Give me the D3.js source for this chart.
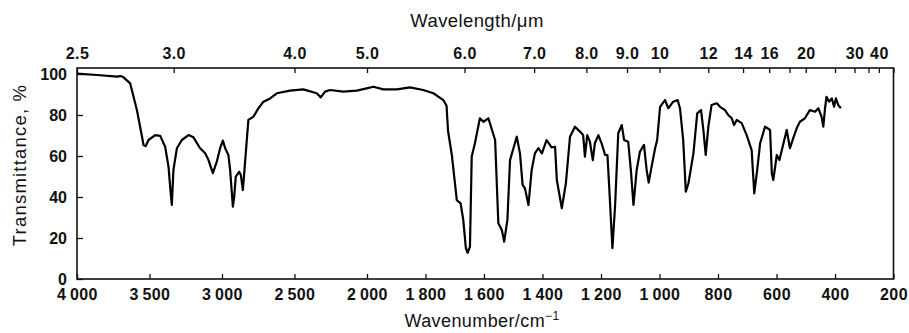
<!DOCTYPE html>
<html>
<head>
<meta charset="utf-8">
<script src="https://cdn.jsdelivr.net/npm/d3@7"></script>
<style>
	body { margin: 0; background: #fff; }
	text { font-family: "Liberation Sans", Arial, sans-serif; fill: #111; }
</style>
</head>
<body>
<svg id="chart" width="909" height="333"></svg>
<script>
// spectrum: wavenumber (cm-1) and transmittance (%)
var wavenumber = [4000, 3862, 3724, 3702, 3681, 3633, 3587, 3564, 3541, 3526, 3507, 3461, 3426, 3392, 3369, 3354, 3346, 3335, 3311, 3277,
	3231, 3197, 3151, 3116, 3093, 3063, 3036, 3013, 2994, 2978, 2956, 2944, 2925, 2916, 2905, 2882, 2870, 2856, 2845, 2829,
	2818, 2783, 2749, 2714, 2668, 2622, 2531, 2439, 2347, 2319, 2289, 2255, 2163, 2071, 2002, 1978, 1944, 1898, 1853, 1808,
	1773, 1739, 1728, 1723, 1710, 1693, 1680, 1671, 1662, 1656, 1648, 1642, 1631, 1614, 1602, 1585, 1562, 1551, 1539, 1531,
	1520, 1511, 1488, 1477, 1468, 1460, 1448, 1437, 1426, 1414, 1402, 1386, 1369, 1357, 1351, 1334, 1320, 1306, 1289, 1272,
	1261, 1255, 1247, 1238, 1228, 1221, 1209, 1198, 1186, 1178, 1172, 1161, 1152, 1141, 1129, 1121, 1107, 1098, 1089, 1078,
	1067, 1053, 1044, 1037, 1027, 1015, 1008, 998, 981, 970, 953, 938, 930, 919, 910, 901, 884, 871, 858, 850,
	842, 833, 822, 804, 793, 776, 765, 753, 745, 736, 719, 702, 685, 676, 666, 656, 639, 622, 616, 611,
	599, 590, 579, 565, 554, 543, 531, 520, 503, 486, 468, 457, 446, 440, 434, 429, 420, 411, 403, 397,
	389, 380];
var transmittance = [100.2, 99.5, 98.7, 99.0, 98.5, 95.4, 82.4, 74, 65.4, 64.8, 67.8, 70.2, 69.8, 64.5, 54.8, 42, 36.1, 53.2, 63.8, 67.8,
	70.2, 69.1, 63.8, 61.3, 58, 51.6, 57.2, 63.8, 67.5, 63.8, 60.5, 53.2, 35.3, 40.1, 49.9, 52.3, 50.7, 43.4, 53.2, 67.8,
	77.6, 79.2, 83.3, 86.5, 88.1, 90.6, 91.9, 92.5, 90.6, 88.6, 91.4, 92.2, 91.4, 91.9, 93.0, 93.8, 92.5, 92.5, 93.5, 92.2,
	90.6, 87.3, 84.5, 72.3, 60.5, 38.5, 36.9, 29, 15, 12.8, 15.8, 59.7, 66.2, 78.4, 76.7, 78.4, 67.8, 27.2, 23.9, 18.2,
	28.8, 58, 69.4, 61.3, 45.9, 44.2, 36.1, 53.2, 61.3, 63.8, 61.3, 67.8, 64.2, 64.5, 48.3, 34.5, 46.7, 69.4, 74.3, 71.9,
	70.2, 59.7, 70.2, 67.0, 58, 66.2, 70.2, 66.2, 60.5, 60.5, 45, 15.0, 35.3, 71.1, 75.1, 67.8, 67.0, 53.2, 36.1, 53.2,
	62.1, 65.4, 53.2, 47.0, 54.8, 63.8, 67.8, 84.0, 87.3, 83.3, 86.5, 87.3, 83.3, 67.8, 42.6, 46.7, 61.3, 80.8, 82.4, 72.7,
	60.5, 74.3, 84.9, 85.7, 84.0, 82.4, 80, 78.4, 75.1, 77.6, 76, 70.2, 62.9, 41.8, 53.2, 66.2, 74.3, 72.7, 51.6, 48.3,
	60.5, 58, 64.5, 72.7, 63.8, 68.6, 73.5, 76.7, 78.4, 82.4, 81.6, 83.3, 79.2, 74.3, 83.3, 88.9, 86.5, 88.1, 84.0, 88.1,
	84.9, 83.3];

// tick values
var wnTicks = [4000, 3500, 3000, 2500, 2000, 1800, 1600, 1400, 1200, 1000, 800, 600, 400, 200];
var lambdaTicks = [2.5, 3, 4, 5, 6, 7, 8, 9, 10, 12, 14, 16, 18, 20, 25, 30, 35, 40, 50];
var lambdaLabels = [2.5, 3, 4, 5, 6, 7, 8, 9, 10, 12, 14, 16, 20, 30, 40];
var tTicks = [0, 20, 40, 60, 80, 100];

var margin = { left: 77, right: 893.5, top: 68, bottom: 279 };

var svg = d3.select("#chart");

// chart paper scale: 4000-2000 at half the scale of 2000-200
var x = d3.scaleLinear().domain([4000, 2000, 200]).range([margin.left, 367, margin.right]);
var y = d3.scaleLinear().domain([0, 100]).range([margin.bottom, 74]);

// wavelength scale placed through wavenumber = 10000 / wavelength
var lam = d3.scaleLinear()
	.domain(lambdaTicks)
	.range(lambdaTicks.map(function (l) { return x(10000 / l); }));

function wnFormat(d) {
	var s = String(d);
	if (s.length > 3) s = s.slice(0, s.length - 3) + "\u2009" + s.slice(s.length - 3);
	return s;
}

// bottom axis
var gx = svg.append("g")
	.attr("transform", "translate(0," + margin.bottom + ")")
	.call(d3.axisBottom(x).tickValues(wnTicks).tickSize(-5).tickPadding(10).tickFormat(wnFormat));

// top axis
var gt = svg.append("g")
	.attr("transform", "translate(0," + margin.top + ")")
	.call(d3.axisTop(lam).tickValues(lambdaTicks).tickSize(-5).tickPadding(9)
		.tickFormat(function (d) {
			if (lambdaLabels.indexOf(d) < 0) return "";
			return d < 10 ? d.toFixed(1) : String(d);
		}));

// left axis
var gy = svg.append("g")
	.attr("transform", "translate(" + margin.left + ",0)")
	.call(d3.axisLeft(y).tickValues(tTicks).tickSize(-6).tickPadding(10));

[gx, gt, gy].forEach(function (g) {
	g.select(".domain").remove();
	g.selectAll(".tick line").attr("stroke", "#111").attr("stroke-width", 1.3);
	g.selectAll(".tick text")
		.style("font-family", "'Liberation Sans', Arial, sans-serif")
		.style("font-size", "16px")
		.style("font-weight", "bold")
		.style("letter-spacing", "0.4px")
		.attr("fill", "#111");
});
gy.selectAll(".tick text").style("letter-spacing", "0px");

// frame
svg.append("rect")
	.attr("x", margin.left)
	.attr("y", margin.top)
	.attr("width", margin.right - margin.left)
	.attr("height", margin.bottom - margin.top)
	.attr("fill", "none")
	.attr("stroke", "#111")
	.attr("stroke-width", 1.6);

// spectrum
var line = d3.line()
	.x(function (i) { return x(wavenumber[i]); })
	.y(function (i) { return y(transmittance[i]); });

svg.append("path")
	.datum(d3.range(wavenumber.length))
	.attr("d", line)
	.attr("fill", "none")
	.attr("stroke", "#000")
	.attr("stroke-width", 2.2)
	.attr("stroke-linejoin", "round");

// titles
svg.append("text")
	.attr("x", 477)
	.attr("y", 27)
	.attr("text-anchor", "middle")
	.style("font-size", "18.5px")
	.style("letter-spacing", "0.4px")
	.text("Wavelength/\u03bcm");

var xt = svg.append("text")
	.attr("x", 482)
	.attr("y", 327)
	.attr("text-anchor", "middle")
	.style("font-size", "18px")
	.style("letter-spacing", "0.4px");
xt.append("tspan").text("Wavenumber/cm");
xt.append("tspan").attr("dy", -7).style("font-size", "12px").text("\u22121");

svg.append("text")
	.attr("transform", "translate(26,165) rotate(-90)")
	.attr("text-anchor", "middle")
	.style("font-size", "18.5px")
	.style("letter-spacing", "1.2px")
	.text("Transmittance, %");
</script>
</body>
</html>
